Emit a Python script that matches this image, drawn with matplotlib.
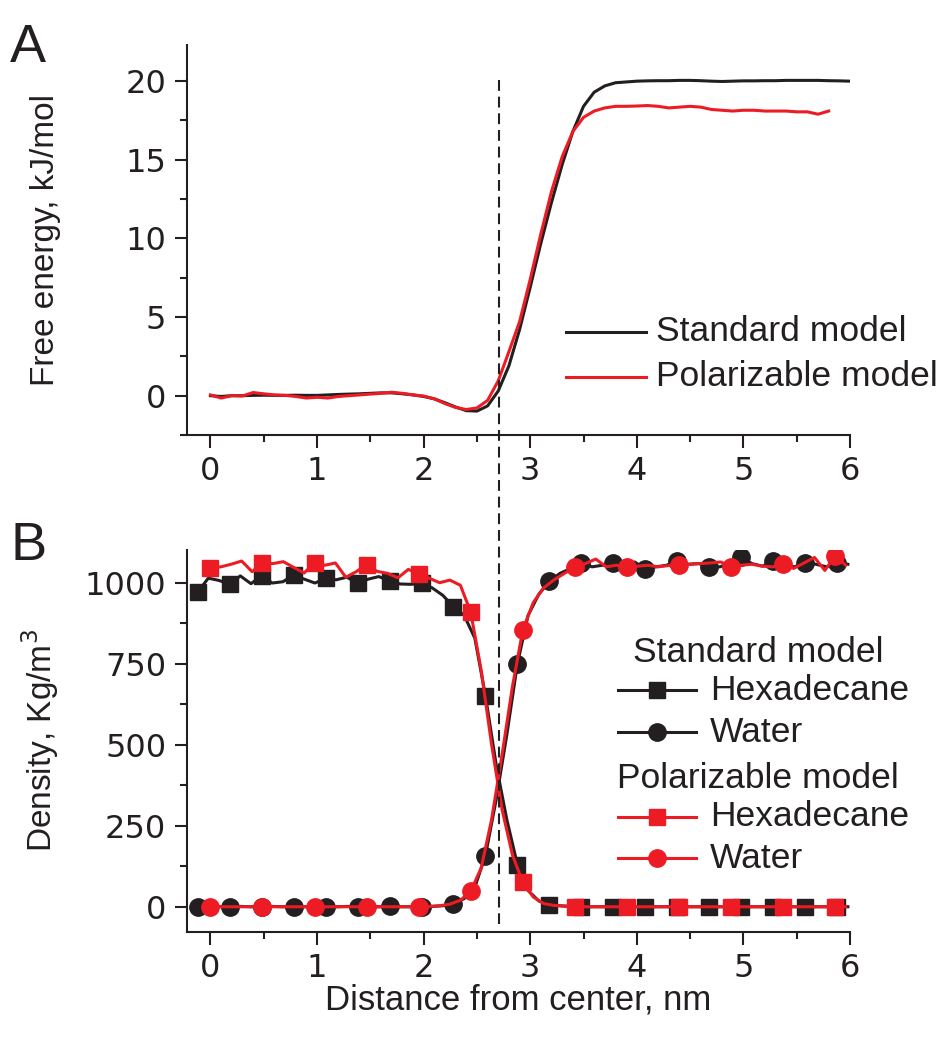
import matplotlib
matplotlib.use("Agg")
import matplotlib.pyplot as plt
from matplotlib.lines import Line2D
from matplotlib.ticker import MultipleLocator
import matplotlib.transforms as mtransforms

# ---------------- data ----------------
# Panel A: free energy profiles (kJ/mol) vs distance from center (nm)
fe_std_x = [0.0, 0.1, 0.2, 0.3, 0.4, 0.5, 0.6, 0.7, 0.8, 0.9,
            1.0, 1.1, 1.2, 1.3, 1.4, 1.5, 1.6, 1.7, 1.8, 1.9,
            2.0, 2.1, 2.2, 2.3, 2.4, 2.5, 2.6, 2.7, 2.8, 2.9,
            3.0, 3.1, 3.2, 3.3, 3.4, 3.5, 3.6, 3.7, 3.8, 3.9,
            4.0, 4.1, 4.2, 4.3, 4.4, 4.5, 4.6, 4.7, 4.8, 4.9,
            5.0, 5.1, 5.2, 5.3, 5.4, 5.5, 5.6, 5.7, 5.8, 5.9, 6.0]
fe_std = [0.0, -0.05, 0.0, 0.0, 0.02, 0.03, 0.02, 0.02, 0.03, 0.02,
          0.02, 0.05, 0.08, 0.1, 0.12, 0.15, 0.18, 0.18, 0.12, 0.05,
          -0.05, -0.2, -0.45, -0.72, -0.95, -0.98, -0.65, 0.3, 1.9, 4.2,
          6.9, 9.7, 12.3, 14.7, 16.8, 18.4, 19.3, 19.7, 19.9, 19.95,
          20.0, 20.02, 20.03, 20.03, 20.05, 20.05, 20.03, 20.0, 19.98, 20.0,
          20.02, 20.02, 20.03, 20.03, 20.05, 20.05, 20.05, 20.05, 20.03, 20.02, 20.0]
fe_pol_x = [0.0, 0.1, 0.2, 0.3, 0.4, 0.5, 0.6, 0.7, 0.8, 0.9,
            1.0, 1.1, 1.2, 1.3, 1.4, 1.5, 1.6, 1.7, 1.8, 1.9,
            2.0, 2.1, 2.2, 2.3, 2.4, 2.5, 2.6, 2.7, 2.8, 2.9,
            3.0, 3.1, 3.2, 3.3, 3.4, 3.5, 3.6, 3.7, 3.8, 3.9,
            4.0, 4.1, 4.2, 4.3, 4.4, 4.5, 4.6, 4.7, 4.8, 4.9,
            5.0, 5.1, 5.2, 5.3, 5.4, 5.5, 5.6, 5.7, 5.8]
fe_pol = [0.05, -0.15, 0.0, -0.02, 0.2, 0.12, 0.05, 0.02, -0.05, -0.15,
          -0.1, -0.15, -0.05, 0.0, 0.05, 0.1, 0.15, 0.22, 0.15, 0.05,
          -0.02, -0.2, -0.5, -0.75, -0.88, -0.78, -0.3, 0.95, 2.8, 4.7,
          7.4, 10.3, 13.0, 15.2, 16.8, 17.7, 18.1, 18.3, 18.4, 18.4,
          18.42, 18.45, 18.4, 18.3, 18.35, 18.4, 18.35, 18.2, 18.15, 18.1,
          18.15, 18.15, 18.1, 18.1, 18.1, 18.05, 18.05, 17.9, 18.1]

# Panel B: density profiles (kg/m^3)
dens_std_x = [-0.12, -0.02, 0.08, 0.18, 0.28, 0.38, 0.48, 0.58, 0.68, 0.78,
              0.88, 0.98, 1.08, 1.18, 1.28, 1.38, 1.48, 1.58, 1.68, 1.78,
              1.88, 1.98, 2.08, 2.18, 2.28, 2.38, 2.48, 2.58, 2.68, 2.78,
              2.88, 2.98, 3.08, 3.18, 3.28, 3.38, 3.48, 3.58, 3.68, 3.78,
              3.88, 3.98, 4.08, 4.18, 4.28, 4.38, 4.48, 4.58, 4.68, 4.78,
              4.88, 4.98, 5.08, 5.18, 5.28, 5.38, 5.48, 5.58, 5.68, 5.78,
              5.88, 5.98]
std_hexadecane = [972, 1015, 1008, 996, 1022, 998, 1022, 1000, 1004, 1025,
                  1012, 1000, 1014, 1010, 1018, 999, 1012, 1020, 1006, 997,
                  996, 999, 985, 962, 927, 900, 830, 652, 440, 270,
                  130, 50, 18, 6, 3, 1, 0, 0, 0, 0,
                  0, 0, 0, 0, 0, 0, 0, 0, 0, 0,
                  0, 0, 0, 0, 0, 0, 0, 0, 0, 0,
                  0, 0]
std_water = [0, 1, 0, 0, 1, 0, 0, 1, 0, 0,
             0, 1, 0, 0, 1, 0, 0, 0, 1, 0,
             0, 0, 1, 3, 10, 25, 60, 158, 330, 530,
             751, 900, 965, 1006, 1030, 1045, 1063, 1050, 1055, 1061,
             1045, 1065, 1043, 1050, 1055, 1069, 1058, 1060, 1051, 1050,
             1062, 1079, 1060, 1052, 1069, 1055, 1050, 1063, 1058, 1050,
             1063, 1058]
dens_pol_x = [0.0, 0.098, 0.195, 0.293, 0.391, 0.488, 0.586, 0.684, 0.782, 0.879,
              0.977, 1.075, 1.172, 1.27, 1.368, 1.465, 1.563, 1.661, 1.759, 1.856,
              1.954, 2.052, 2.149, 2.247, 2.345, 2.442, 2.54, 2.638, 2.736, 2.833,
              2.931, 3.029, 3.126, 3.224, 3.322, 3.419, 3.517, 3.615, 3.713, 3.81,
              3.908, 4.006, 4.103, 4.201, 4.299, 4.396, 4.494, 4.592, 4.69, 4.787,
              4.885, 4.983, 5.08, 5.178, 5.276, 5.373, 5.471, 5.569, 5.667, 5.764,
              5.862, 5.96]
pol_hexadecane = [1045, 1050, 1058, 1068, 1035, 1061, 1060, 1066, 1048, 1031,
                  1063, 1055, 1062, 1018, 1035, 1057, 1036, 1030, 1016, 1042,
                  1029, 1015, 1001, 1009, 993, 910, 730, 500, 300, 160,
                  75, 30, 10, 4, 2, 0, 0, 0, 0, 0,
                  0, 0, 0, 0, 0, 0, 0, 0, 0, 0,
                  0, 0, 0, 0, 0, 0, 0, 0, 0, 0,
                  0, 0]
pol_water = [0, 0, 0, 0, 0, 0, 0, 0, 0, 0,
             0, 0, 0, 0, 0, 0, 0, 0, 0, 0,
             0, 1, 3, 8, 20, 48, 120, 270, 470, 680,
             856, 940, 985, 1010, 1030, 1048, 1060, 1074, 1050, 1055,
             1048, 1052, 1055, 1050, 1054, 1055, 1058, 1060, 1062, 1065,
             1051, 1055, 1058, 1052, 1050, 1058, 1045, 1062, 1079, 1039,
             1084, 1055]

interface_x = 2.71
x_ticks = [0, 1, 2, 3, 4, 5, 6]
fe_ticks = [0, 5, 10, 15, 20]
dens_ticks = [0, 250, 500, 750, 1000]

# ---------------- style ----------------
W, H = 946, 1039
BLACK = "#231F20"
RED = "#ED1C24"
LABEL_FONT = "Liberation Sans"
TICK_FONT = "DejaVu Sans"
LEG_FS = 25.5
SQ_MS = 11.5
CI_MS = 12.5

fig = plt.figure(figsize=(W / 100, H / 100), dpi=100)


def fx(x):
    return x / W


def fy(y):
    return 1 - y / H


def axes_rect(left, top, right, bottom):
    return [fx(left), fy(bottom), fx(right) - fx(left), fy(top) - fy(bottom)]


axA = fig.add_axes(axes_rect(187, 45, 850, 435))
axB = fig.add_axes(axes_rect(187, 550, 850, 932))

for ax in (axA, axB):
    for s in ("top", "right"):
        ax.spines[s].set_visible(False)
    for s in ("left", "bottom"):
        ax.spines[s].set_linewidth(1.5)
        ax.spines[s].set_color(BLACK)
    ax.set_xlim(-0.22, 6.0)
    ax.xaxis.set_major_locator(MultipleLocator(1))
    ax.xaxis.set_minor_locator(MultipleLocator(0.5))
    ax.tick_params(which="major", direction="out", length=9, width=1.5,
                   color=BLACK, labelsize=23, pad=6)
    ax.tick_params(which="minor", direction="out", length=5, width=1.5, color=BLACK)
    ax.set_xticks(x_ticks)

# Panel A
axA.plot(fe_std_x, fe_std, color=BLACK, lw=2.2, solid_joinstyle="round")
axA.plot(fe_pol_x, fe_pol, color=RED, lw=2.2, solid_joinstyle="round")
axA.set_ylim(-2.5, 22.3)
axA.set_yticks(fe_ticks)
axA.yaxis.set_minor_locator(MultipleLocator(2.5))
axA.set_ylabel("Free energy, kJ/mol", fontsize=24, family=LABEL_FONT, color=BLACK)
axA.yaxis.set_label_coords(-0.19, 0.5)

# Panel B
axB.plot(dens_std_x, std_hexadecane, color=BLACK, lw=2.2, marker="s", ms=SQ_MS,
         markevery=3, mec=BLACK, mfc=BLACK)
axB.plot(dens_std_x, std_water, color=BLACK, lw=2.2, marker="o", ms=CI_MS,
         markevery=3, mec=BLACK, mfc=BLACK)
axB.plot(dens_pol_x, pol_hexadecane, color=RED, lw=2.2, marker="s", ms=SQ_MS,
         markevery=5, mec=RED, mfc=RED)
axB.plot(dens_pol_x, pol_water, color=RED, lw=2.2, marker="o", ms=CI_MS,
         markevery=5, mec=RED, mfc=RED)
axB.set_ylim(-78, 1102)
axB.set_yticks(dens_ticks)
axB.yaxis.set_minor_locator(MultipleLocator(125))
axB.set_ylabel("Density, Kg/m$^3$", fontsize=24, family=LABEL_FONT, color=BLACK)
axB.yaxis.set_label_coords(-0.19, 0.5)
axB.set_xlabel("Distance from center, nm", fontsize=25, family=LABEL_FONT, color=BLACK)
axB.xaxis.set_label_coords(0.5, -0.178)
axB.xaxis.label.set_va("center")

for ax in (axA, axB):
    for lab in ax.get_xticklabels() + ax.get_yticklabels():
        lab.set_fontfamily(TICK_FONT)
        lab.set_color(BLACK)

# dashed interface line spanning both panels
trans = mtransforms.blended_transform_factory(axA.transData, fig.transFigure)
fig.add_artist(Line2D([interface_x, interface_x], [fy(80), fy(924)], transform=trans,
                      color=BLACK, lw=1.5, linestyle=(0, (5.2, 2.8))))

# panel letters
fig.text(fx(10), fy(62), "A", fontsize=39, family=LABEL_FONT, color=BLACK, va="baseline")
fig.text(fx(10), fy(560), "B", fontsize=39, family=LABEL_FONT, color=BLACK, va="baseline")

# legend A
for y, c, t in ((332, BLACK, "Standard model"), (377, RED, "Polarizable model")):
    fig.add_artist(Line2D([fx(566), fx(646)], [fy(y), fy(y)], color=c, lw=2.2,
                          transform=fig.transFigure))
    fig.text(fx(656), fy(y), t, fontsize=LEG_FS, family=LABEL_FONT, color=BLACK,
             va="center", ha="left")

# legend B
fig.text(fx(633), fy(652), "Standard model", fontsize=LEG_FS, family=LABEL_FONT,
         color=BLACK, va="center")
fig.text(fx(617), fy(778), "Polarizable model", fontsize=LEG_FS, family=LABEL_FONT,
         color=BLACK, va="center")
for y, c, m, ms, t in ((690, BLACK, "s", SQ_MS, "Hexadecane"), (732, BLACK, "o", CI_MS, "Water"),
                       (817, RED, "s", SQ_MS, "Hexadecane"), (858, RED, "o", CI_MS, "Water")):
    fig.add_artist(Line2D([fx(618), fx(657), fx(696)], [fy(y)] * 3, color=c, lw=2.2,
                          marker=m, ms=ms, markevery=[1], mfc=c, mec=c,
                          transform=fig.transFigure))
    fig.text(fx(710), fy(y), t, fontsize=LEG_FS, family=LABEL_FONT, color=BLACK,
             va="center", ha="left")

fig.savefig("out.png", dpi=100)
